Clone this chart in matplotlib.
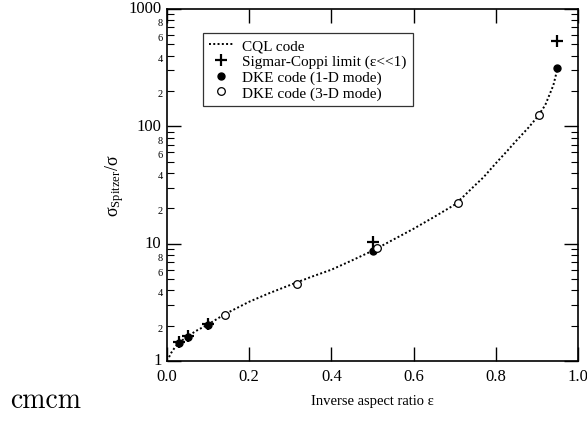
import math

import matplotlib.pyplot as plt
from matplotlib.transforms import ScaledTranslation
from matplotlib.ticker import LogLocator, FuncFormatter, FixedLocator, NullLocator

# CQL code curve
cql_eps = [0.005, 0.01, 0.02, 0.03, 0.05, 0.07, 0.1, 0.14, 0.2, 0.25, 0.3, 0.35, 0.4, 0.45, 0.5,
           0.55, 0.6, 0.65, 0.7, 0.72, 0.75, 0.77, 0.8, 0.83, 0.85, 0.88, 0.9, 0.92, 0.94, 0.95]
cql_ratio = [1.08, 1.17, 1.32, 1.44, 1.62, 1.8, 2.05, 2.5, 3.2, 3.8, 4.45, 5.2, 6.0, 7.2, 8.7,
             10.8, 13.4, 16.9, 21.5, 25.0, 31.6, 36.8, 48.4, 63.0, 75.5, 98.0, 119.0, 151.0, 224.0, 310.0]

# Sigmar-Coppi limit
sc_eps = [0.03, 0.05, 0.1, 0.5, 0.95]
sc_ratio = [1.46, 1.62, 2.07, 10.3, 530.0]

# DKE code (1-D mode)
dke1_eps = [0.03, 0.05, 0.1, 0.5, 0.95]
dke1_ratio = [1.43, 1.6, 2.03, 8.6, 313.0]

# DKE code (3-D mode)
dke3_eps = [0.142, 0.316, 0.511, 0.707, 0.905]
dke3_ratio = [2.47, 4.53, 9.25, 22.2, 125.0]

plt.rcParams["font.family"] = ["Liberation Serif", "DejaVu Serif"]
plt.rcParams["mathtext.fontset"] = "stix"

fig = plt.figure(figsize=(5.87, 4.27), dpi=100)
ax = fig.add_axes([0.2845, 0.1522, 0.7002, 0.8244])

ax.plot(cql_eps, cql_ratio, linestyle=(0, (1, 1.2)), color="black", linewidth=1.4, label="CQL code")
ax.plot(sc_eps, sc_ratio, linestyle="none", marker="+", markersize=8, markeredgewidth=1.6,
        color="black", label="Sigmar-Coppi limit (ε<<1)")
ax.plot(dke1_eps, dke1_ratio, linestyle="none", marker="o", markersize=5, color="black",
        label="DKE code (1-D mode)")
ax.plot(dke3_eps, dke3_ratio, linestyle="none", marker="o", markersize=5.5, markerfacecolor="white",
        markeredgecolor="black", markeredgewidth=0.9, label="DKE code (3-D mode)")

ax.set_yscale("log")
ax.set_xlim(0, 1)
ax.set_ylim(1, 1000)

ax.xaxis.set_major_locator(FixedLocator([0, 0.2, 0.4, 0.6, 0.8, 1.0]))
ax.xaxis.set_minor_locator(NullLocator())
ax.xaxis.set_major_formatter(FuncFormatter(lambda v, p: "%.1f" % v))
ax.yaxis.set_major_locator(LogLocator(base=10))
ax.yaxis.set_major_formatter(FuncFormatter(lambda v, p: "%d" % round(v)))
ax.yaxis.set_minor_locator(LogLocator(base=10, subs=range(2, 10)))


def minor_fmt(v, p):
    m = round(v / 10 ** math.floor(math.log10(v) + 1e-9))
    return "%d" % m if m in (2, 4, 6, 8) else ""


ax.yaxis.set_minor_formatter(FuncFormatter(minor_fmt))

ax.tick_params(axis="both", which="major", direction="in", top=True, right=True,
               length=10, width=1.0, labelsize=12)
ax.tick_params(axis="y", which="major", pad=4)
ax.tick_params(axis="y", which="minor", direction="in", right=True, length=5, width=0.8,
               labelsize=7.5, pad=3)
ax.tick_params(axis="x", which="major", pad=5)
for s in ax.spines.values():
    s.set_linewidth(1.2)

# nudge major/minor y labels apart a little so they do not collide
up = ScaledTranslation(0, 2.0 / 72, fig.dpi_scale_trans)
down = ScaledTranslation(0, -1.0 / 72, fig.dpi_scale_trans)
for lab in ax.yaxis.get_majorticklabels():
    lab.set_transform(lab.get_transform() + up)
for lab in ax.yaxis.get_minorticklabels():
    lab.set_transform(lab.get_transform() + down)

ax.set_xlabel("Inverse aspect ratio ε", fontsize=10.5, labelpad=7)
ax.set_ylabel(r"$\mathregular{\sigma_{Spitzer}/\sigma}$", fontsize=13, labelpad=2)

leg = ax.legend(loc="upper left", bbox_to_anchor=(0.087, 0.932), borderaxespad=0, fontsize=11,
                frameon=True, fancybox=False, edgecolor="black", handlelength=1.6,
                handletextpad=0.6, borderpad=0.4, labelspacing=0.12)
leg.get_frame().set_linewidth(0.9)

fig.text(0.017, 0.045, "cmcm", fontsize=20, family="cmr10")

fig.savefig("out.png", dpi=100)
